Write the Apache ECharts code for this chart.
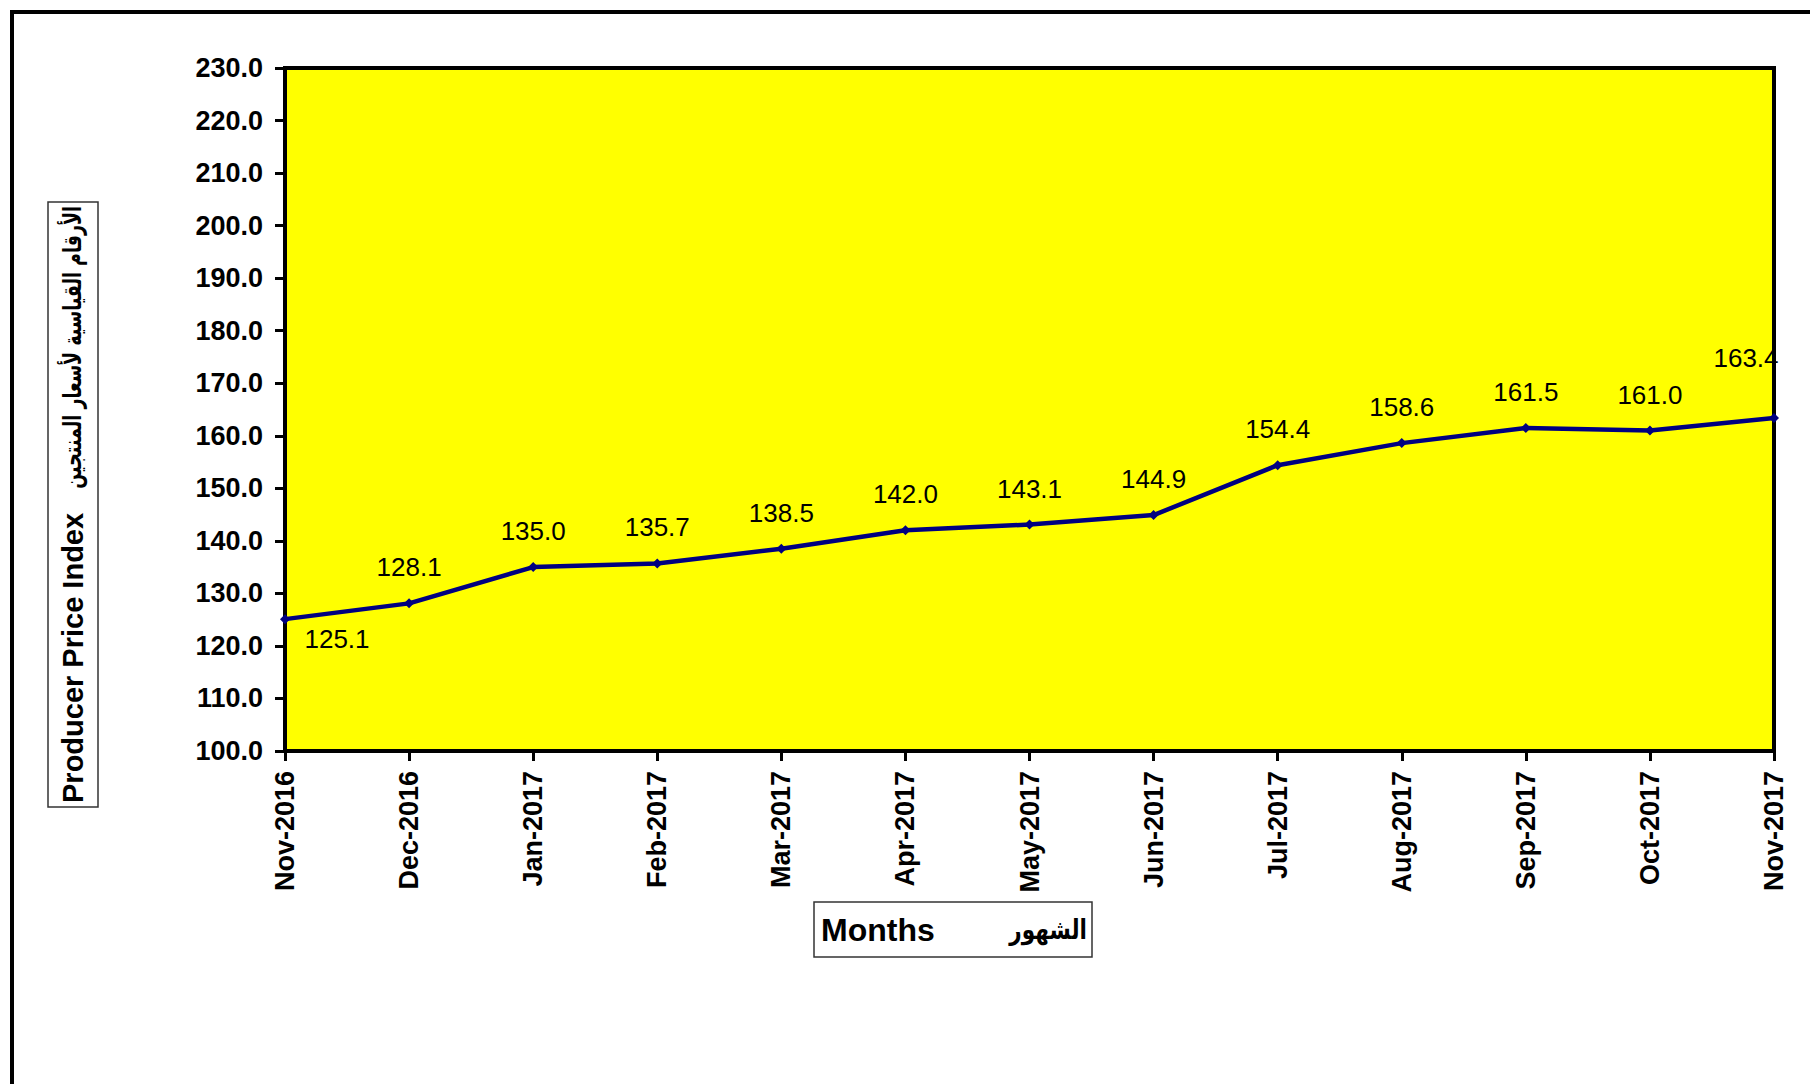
<!DOCTYPE html>
<html>
<head>
<meta charset="utf-8">
<script src="https://cdn.jsdelivr.net/npm/echarts@6/dist/echarts.min.js"></script>
<style>
  html, body { margin: 0; padding: 0; background: #ffffff; }
  #chart { width: 1810px; height: 1084px; }
</style>
</head>
<body>
<div id="chart"></div>
<script>
const months = ['Nov-2016','Dec-2016','Jan-2017','Feb-2017','Mar-2017','Apr-2017','May-2017','Jun-2017','Jul-2017','Aug-2017','Sep-2017','Oct-2017','Nov-2017'];
const ppiValues = [125.1, 128.1, 135.0, 135.7, 138.5, 142.0, 143.1, 144.9, 154.4, 158.6, 161.5, 161.0, 163.4];
const yMin = 100;
const yMax = 230;
const yStep = 10;
const xTitleEn = 'Months';
const xTitleAr = 'الشهور';
const yTitleEn = 'Producer Price Index';
const yTitleAr = 'الأرقام القياسية لأسعار المنتجين';

const latin = '"Liberation Sans", Arial, Helvetica, sans-serif';
const arabic = '"DejaVu Sans", "Noto Sans", sans-serif';

const seriesData = ppiValues.map(function (v, i) {
  const item = { value: v };
  if (i === 0) {
    item.label = { position: 'inside', offset: [52, 20] };
  } else if (i === ppiValues.length - 1) {
    item.label = { position: 'inside', offset: [-28, -60] };
  }
  return item;
});

const chart = echarts.init(document.getElementById('chart'), null, { renderer: 'svg' });
chart.setOption({
  animation: false,
  backgroundColor: '#ffffff',
  grid: {
    left: 285, top: 68, right: 36, bottom: 333,
    containLabel: false,
    outerBoundsMode: 'none',
    show: true,
    backgroundColor: '#FFFF00',
    borderColor: '#000000',
    borderWidth: 4
  },
  xAxis: {
    type: 'category',
    data: months,
    boundaryGap: false,
    axisLine: { show: true, lineStyle: { color: '#000000', width: 4 } },
    axisTick: { show: true, inside: false, length: 10, lineStyle: { color: '#000000', width: 3 } },
    axisLabel: {
      interval: 0, rotate: 90, margin: 20,
      color: '#000000', fontFamily: latin, fontWeight: 'bold', fontSize: 27
    },
    splitLine: { show: false }
  },
  yAxis: {
    type: 'value',
    min: yMin, max: yMax, interval: yStep,
    axisLine: { show: true, lineStyle: { color: '#000000', width: 4 } },
    axisTick: { show: true, inside: false, length: 10, lineStyle: { color: '#000000', width: 3 } },
    axisLabel: {
      margin: 22, color: '#000000', fontFamily: latin, fontWeight: 'bold', fontSize: 27,
      formatter: function (v) { return v.toFixed(1); }
    },
    splitLine: { show: false }
  },
  series: [{
    type: 'line',
    data: seriesData,
    symbol: 'diamond',
    symbolSize: 10,
    showAllSymbol: true,
    clip: false,
    lineStyle: { color: '#000080', width: 4.5 },
    itemStyle: { color: '#000080' },
    label: {
      show: true,
      position: 'inside',
      offset: [0, -36],
      color: '#000000',
      fontFamily: latin,
      fontSize: 26,
      formatter: function (p) { return p.value.toFixed(1); }
    },
    emphasis: { disabled: true }
  }],
  graphic: [
    {
      type: 'rect', silent: true, z: 100,
      shape: { x: 12, y: 12, width: 1900, height: 1200 },
      style: { fill: 'none', stroke: '#000000', lineWidth: 4 }
    },
    {
      type: 'rect', silent: true, z: 100,
      shape: { x: 48, y: 202, width: 50, height: 605 },
      style: { fill: 'none', stroke: '#333333', lineWidth: 1.5 }
    },
    {
      type: 'text', silent: true, z: 100,
      x: 73, y: 803, rotation: Math.PI / 2,
      style: {
        text: yTitleEn, fill: '#000000',
        font: 'bold 29px ' + latin,
        textAlign: 'left', textVerticalAlign: 'middle'
      }
    },
    {
      type: 'text', silent: true, z: 100,
      x: 72, y: 206, rotation: Math.PI / 2, scaleX: 0.70,
      style: {
        text: yTitleAr, fill: '#000000',
        font: 'bold 25px ' + arabic,
        textAlign: 'right', textVerticalAlign: 'middle'
      }
    },
    {
      type: 'rect', silent: true, z: 100,
      shape: { x: 814, y: 902, width: 278, height: 55 },
      style: { fill: 'none', stroke: '#333333', lineWidth: 1.5 }
    },
    {
      type: 'text', silent: true, z: 100,
      x: 821, y: 930,
      style: {
        text: xTitleEn, fill: '#000000',
        font: 'bold 32px ' + latin,
        textAlign: 'left', textVerticalAlign: 'middle'
      }
    },
    {
      type: 'text', silent: true, z: 100,
      x: 1087, y: 930, scaleX: 0.8,
      style: {
        text: xTitleAr, fill: '#000000',
        font: 'bold 27px ' + arabic,
        textAlign: 'right', textVerticalAlign: 'middle'
      }
    }
  ]
});
</script>
</body>
</html>
